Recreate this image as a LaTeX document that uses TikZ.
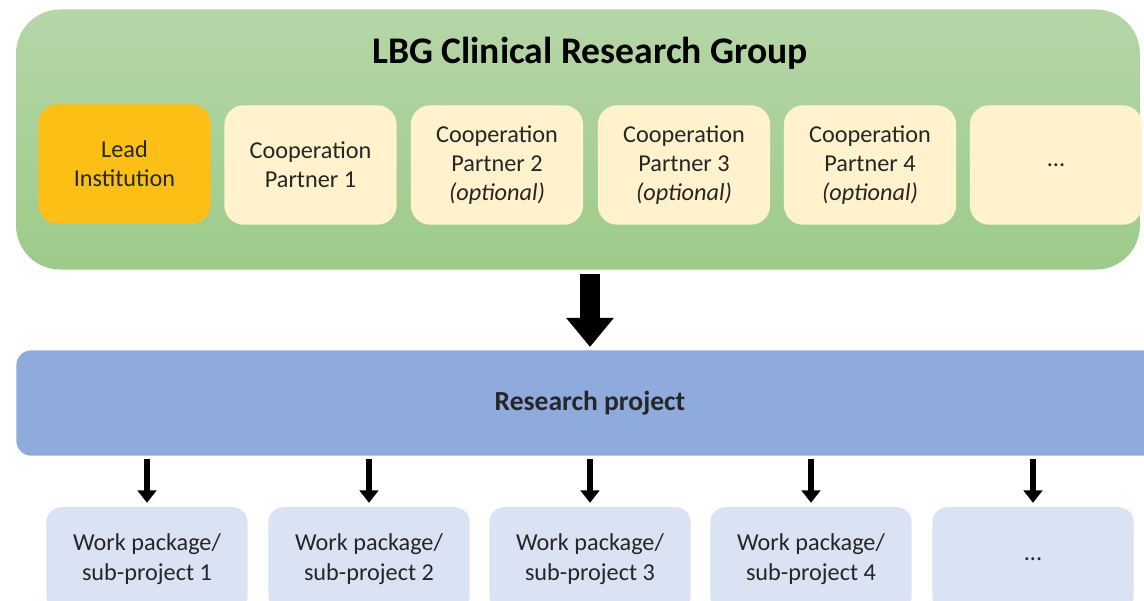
\documentclass[tikz,border=0pt]{standalone}
\usepackage{fontspec}
\setmainfont{Carlito}
\usetikzlibrary{arrows.meta}
\definecolor{grouptop}{RGB}{182,214,168}
\definecolor{groupbot}{RGB}{157,203,137}
\definecolor{leadorange}{RGB}{252,191,22}
\definecolor{partnercream}{RGB}{255,242,204}
\definecolor{projblue}{RGB}{143,170,220}
\definecolor{wpblue}{RGB}{218,227,243}
\definecolor{textgray}{RGB}{38,38,38}

\begin{document}
\begin{tikzpicture}[x=0.02cm, y=-0.02cm,
 box/.style={rounded corners=11pt, minimum width=98pt, minimum height=68pt, inner sep=0, align=center, text=textgray, font=\fontsize{13.8}{16.5}\selectfont},
 wpbox/.style={box, fill=wpblue, rounded corners=8.5pt, minimum width=114.5pt, minimum height=59pt, font=\fontsize{13.8}{17}\selectfont},
 bigarrow/.style={line width=11.9pt, -{Triangle[width=26pt, length=16.5pt]}, shorten <=2.3pt, shorten >=1.7pt},
 smallarrow/.style={line width=3.4pt, -{Triangle[width=10.5pt, length=7pt]}, shorten <=1.7pt, shorten >=2.3pt}]
\useasboundingbox (0,0) rectangle (1144,600);
\clip (0,0) rectangle (1144,600);
% research group
\node[rounded corners=25pt, top color=grouptop, bottom color=groupbot, minimum width=639.6pt, minimum height=148pt] (group) at (578,139.5) {};
\node[font=\bfseries\fontsize{21.4}{25}\selectfont] (title) at (590,53) {LBG Clinical Research Group};
\node[box, fill=leadorange] (lead) at (124.5,164) {Lead\\Institution};
\foreach \x/\n/\t in {310.5/coop1/{Cooperation\\Partner 1},
 497/coop2/{Cooperation\\Partner 2\\\textit{(optional)}},
 684/coop3/{Cooperation\\Partner 3\\\textit{(optional)}},
 870/coop4/{Cooperation\\Partner 4\\\textit{(optional)}},
 1056/coopmore/{...}}
 \node[box, fill=partnercream] (\n) at (\x,165) {\t};
% project (runs past the right edge)
\node[rounded corners=8.5pt, fill=projblue, minimum width=653pt, minimum height=60pt, font=\bfseries\fontsize{15.7}{18}\selectfont, text=textgray] (project) at (590,403) {Research project};
\draw[bigarrow] (title |- group.south) -- (project.north);
% work packages
\foreach \x/\n/\t in {147/wp1/{Work package/\\sub-project 1},
 369/wp2/{Work package/\\sub-project 2},
 590/wp3/{Work package/\\sub-project 3},
 811/wp4/{Work package/\\sub-project 4},
 1033/wpmore/{...}} {
 \node[wpbox] (\n) at (\x,559) {\t};
 \draw[smallarrow] (\n |- project.south) -- (\n.north);
}
\end{tikzpicture}
\end{document}
